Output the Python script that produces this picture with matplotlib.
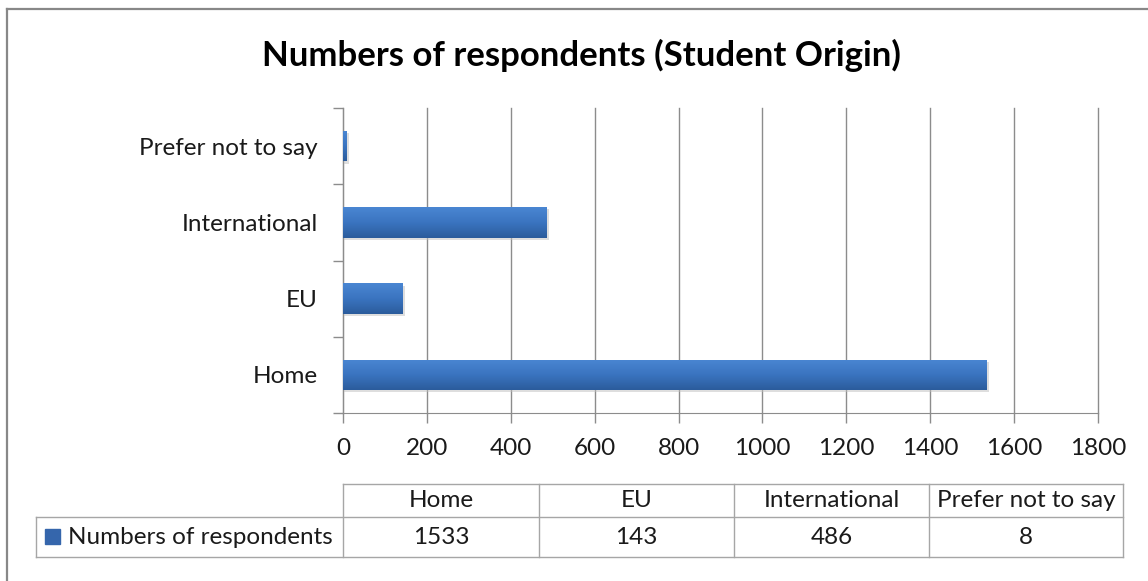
import numpy as np
import matplotlib.pyplot as plt
from matplotlib.patches import Rectangle
from matplotlib.lines import Line2D
from matplotlib.colors import LinearSegmentedColormap

# data
categories = ['Home', 'EU', 'International', 'Prefer not to say']
counts = [1533, 143, 486, 8]
series_name = 'Numbers of respondents'
title = 'Numbers of respondents (Student Origin)'
x_ticks = [0, 200, 400, 600, 800, 1000, 1200, 1400, 1600, 1800]

plt.rcParams['font.family'] = ['Lato', 'DejaVu Sans']

W, H = 1148, 581
fig = plt.figure(figsize=(W / 100, H / 100), dpi=100)
fig.patch.set_facecolor('white')
FS = 17.5


def fx(px):
    return px / W


def fy(py):
    return 1 - py / H


# outer chart frame (only top and left edges are inside the picture)
fig.add_artist(Line2D([fx(7), fx(1148)], [fy(9), fy(9)], transform=fig.transFigure,
                      color='#888888', lw=1.6))
fig.add_artist(Line2D([fx(7), fx(7)], [fy(9), fy(581)], transform=fig.transFigure,
                      color='#888888', lw=1.6))

ax = fig.add_axes([fx(343), fy(413), fx(1098) - fx(343), fy(108) - fy(413)])
y = np.arange(len(categories))
bars = ax.barh(y, counts, height=0.4, color='#3566ac', zorder=3)

# soft shadow + vertical gradient like the original
grad = np.linspace(0, 1, 64).reshape(-1, 1)
cmap = LinearSegmentedColormap.from_list('bar', ['#2b5c9c', '#3a74c0', '#4a86d2'])
for b in bars:
    x0, y0, w, h = b.get_x(), b.get_y(), b.get_width(), b.get_height()
    ax.add_patch(Rectangle((x0, y0 - 0.03), w + 6, h, color='#bfbfbf',
                           alpha=0.5, zorder=2, linewidth=0))
    im = ax.imshow(grad, extent=(x0, x0 + w, y0, y0 + h), origin='lower',
                   cmap=cmap, aspect='auto', zorder=4)
    im.set_clip_path(b)

ax.set_xlim(0, 1800)
ax.set_ylim(-0.5, len(categories) - 0.5)
ax.set_xticks(x_ticks)
ax.set_xticklabels([str(t) for t in x_ticks], fontsize=FS, color='#1a1a1a')
ax.set_yticks(y)
ax.set_yticklabels(categories, fontsize=FS, color='#1a1a1a')
ax.tick_params(axis='y', length=0, pad=18)
ax.tick_params(axis='x', length=7, width=1, color='#8c8c8c', pad=11,
               direction='out')
ax.set_yticks(np.arange(-0.5, len(categories), 1), minor=True)
ax.tick_params(axis='y', which='minor', length=7, width=1, color='#8c8c8c')
ax.grid(axis='x', color='#8c8c8c', linewidth=1, zorder=0)
for gl in ax.get_xgridlines():
    gl.set_clip_on(False)
for s in ['top', 'right']:
    ax.spines[s].set_visible(False)
ax.spines['left'].set_color('#8c8c8c')
ax.spines['bottom'].set_color('#8c8c8c')
ax.set_axisbelow(True)

fig.text(fx(581), fy(55), title, ha='center', va='center', fontsize=25,
         fontweight='bold', color='#000000')

# data table under the chart
col_edges = [343, 539, 734, 929, 1123]
row_top, row_mid, row_bot = 484, 517, 557
grid_c = '#a6a6a6'


def hline(x0, x1, yy):
    fig.add_artist(Line2D([fx(x0), fx(x1)], [fy(yy), fy(yy)],
                          transform=fig.transFigure, color=grid_c, lw=1))


def vline(xx, y0, y1):
    fig.add_artist(Line2D([fx(xx), fx(xx)], [fy(y0), fy(y1)],
                          transform=fig.transFigure, color=grid_c, lw=1))


hline(col_edges[0], col_edges[-1], row_top)
hline(36, col_edges[-1], row_mid)
hline(36, col_edges[-1], row_bot)
vline(36, row_mid, row_bot)
for xe in col_edges:
    vline(xe, row_top, row_bot)

for i, (cat, val) in enumerate(zip(categories, counts)):
    cx = (col_edges[i] + col_edges[i + 1]) / 2
    fig.text(fx(cx), fy((row_top + row_mid) / 2), cat, ha='center',
             va='center', fontsize=FS, color='#1a1a1a')
    fig.text(fx(cx), fy((row_mid + row_bot) / 2), str(val), ha='center',
             va='center', fontsize=FS, color='#1a1a1a')

fig.add_artist(Rectangle((fx(45), fy(544)), fx(60) - fx(45), fy(529) - fy(544),
                         transform=fig.transFigure, color='#3566ac'))
fig.text(fx(68), fy((row_mid + row_bot) / 2), series_name, ha='left',
         va='center', fontsize=FS, color='#1a1a1a')

fig.savefig('out.png', dpi=100)
